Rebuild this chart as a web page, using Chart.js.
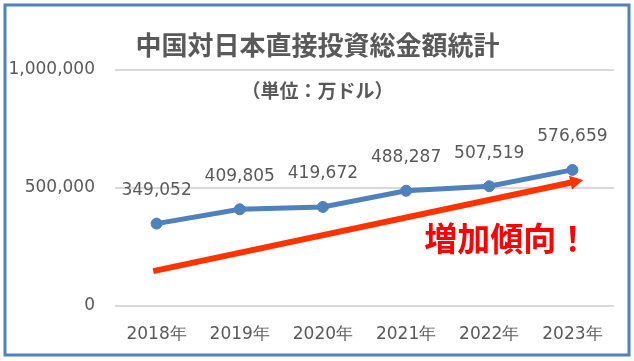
<!DOCTYPE html>
<html>
<head>
<meta charset="utf-8">
<script src="https://cdn.jsdelivr.net/npm/chart.js@4"></script>
<style>
html,body{margin:0;padding:0;background:#fff;}
canvas{display:block;}
</style>
</head>
<body>
<canvas id="c" width="634" height="361"></canvas>
<script>
const categories = ["2018年","2019年","2020年","2021年","2022年","2023年"];
const investment = [349052, 409805, 419672, 488287, 507519, 576659];
const yTicks = [0, 500000, 1000000];
const titleText = "中国対日本直接投資総金額統計";
const subtitleText = "（単位：万ドル）";
const trendText = "増加傾向！";
// trend arrow annotation in data units: [category index, value]
const trendFrom = [-0.04, 148000];
const trendTo = [5.13, 534000];
const trendTextAt = [4.21, 288000];

const FONT = "'DejaVu Sans', sans-serif";
const CJK = "'Noto Sans CJK JP', sans-serif";
const GREY = "#595959";

const decor = {
  id: 'decor',
  beforeDraw(chart) {
    const ctx = chart.ctx;
    ctx.save();
    ctx.fillStyle = '#fff';
    ctx.fillRect(0, 0, chart.width, chart.height);
    ctx.restore();
  },
  afterDatasetsDraw(chart) {
    const ctx = chart.ctx;
    const xs = chart.scales.x, ys = chart.scales.y;
    ctx.save();
    // data labels
    const meta = chart.getDatasetMeta(0);
    ctx.font = "17px " + FONT;
    ctx.fillStyle = GREY;
    ctx.textAlign = 'center';
    ctx.textBaseline = 'middle';
    meta.data.forEach((pt, i) => {
      ctx.fillText(investment[i].toLocaleString('en-US'), pt.x, pt.y - 33);
    });
    // trend arrow
    const x1 = xs.getPixelForValue(trendFrom[0]), y1 = ys.getPixelForValue(trendFrom[1]);
    const x2 = xs.getPixelForValue(trendTo[0]), y2 = ys.getPixelForValue(trendTo[1]);
    const ang = Math.atan2(y2 - y1, x2 - x1);
    const headLen = 13, headW = 7;
    const bx = x2 - headLen * Math.cos(ang), by = y2 - headLen * Math.sin(ang);
    ctx.strokeStyle = '#ff3300';
    ctx.fillStyle = '#ff3300';
    ctx.lineWidth = 6;
    ctx.lineCap = 'butt';
    ctx.beginPath();
    ctx.moveTo(x1, y1);
    ctx.lineTo(bx + 2 * Math.cos(ang), by + 2 * Math.sin(ang));
    ctx.stroke();
    ctx.beginPath();
    ctx.moveTo(x2, y2);
    ctx.lineTo(bx - headW * Math.sin(ang), by + headW * Math.cos(ang));
    ctx.lineTo(bx + headW * Math.sin(ang), by - headW * Math.cos(ang));
    ctx.closePath();
    ctx.fill();
    // trend text
    ctx.font = "bold 33px " + CJK;
    ctx.fillStyle = '#ff0000';
    ctx.textAlign = 'center';
    ctx.textBaseline = 'middle';
    ctx.fillText(trendText, xs.getPixelForValue(trendTextAt[0]), ys.getPixelForValue(trendTextAt[1]));
    ctx.restore();
  },
  afterDraw(chart) {
    const ctx = chart.ctx;
    ctx.save();
    ctx.fillStyle = GREY;
    ctx.textAlign = 'center';
    ctx.textBaseline = 'middle';
    ctx.font = "bold 26px " + CJK;
    ctx.fillText(titleText, 317.5, 45);
    ctx.font = "bold 19px " + CJK;
    ctx.fillText(subtitleText, 317.5, 91);
    ctx.strokeStyle = '#4f81bd';
    ctx.lineWidth = 3;
    ctx.strokeRect(5, 5, 624, 350);
    ctx.restore();
  }
};

new Chart(document.getElementById('c'), {
  type: 'line',
  data: {
    labels: categories,
    datasets: [{
      data: investment,
      borderColor: '#4f81bd',
      backgroundColor: '#4f81bd',
      borderWidth: 5,
      pointRadius: 5.5,
      pointBorderWidth: 1,
      pointHoverRadius: 5.5,
      pointBackgroundColor: '#4f81bd',
      pointBorderColor: '#4f81bd',
      tension: 0
    }]
  },
  options: {
    responsive: false,
    animation: false,
    events: [],
    layout: { padding: { left: 0, right: 20, top: 70, bottom: 0 } },
    plugins: { legend: { display: false }, title: { display: false }, tooltip: { enabled: false } },
    scales: {
      x: {
        offset: true,
        grid: { display: false, drawTicks: false },
        border: { display: false },
        ticks: { color: GREY, font: { family: FONT, size: 17 }, padding: 18, maxRotation: 0 },
        afterFit(s) { s.height = 55; }
      },
      y: {
        min: 0, max: 1000000,
        afterBuildTicks(s) { s.ticks = yTicks.map(v => ({ value: v })); },
        grid: { color: '#d9d9d9', lineWidth: 2, drawTicks: false },
        border: { display: false },
        ticks: {
          color: GREY, font: { family: FONT, size: 17 }, padding: 20,
          callback: v => v.toLocaleString('en-US')
        },
        afterFit(s) { s.width = 115; }
      }
    }
  },
  plugins: [decor]
});
</script>
</body>
</html>
